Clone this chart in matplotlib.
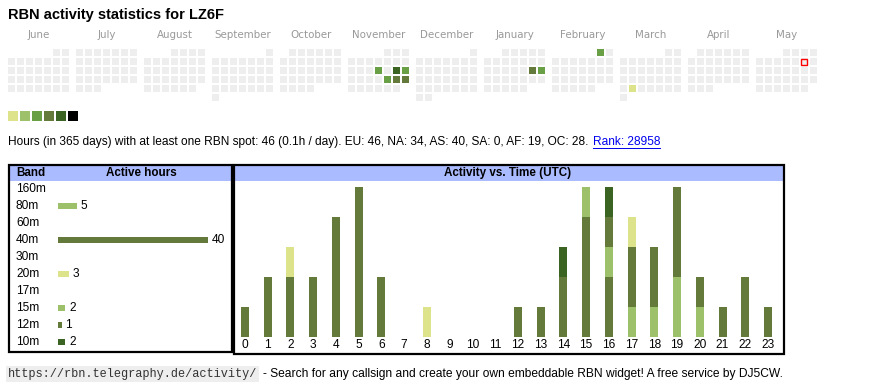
import datetime as dt
import matplotlib.pyplot as plt
from matplotlib.patches import Rectangle

# dati calendario
callsign = "LZ6F"
month_names = ["June", "July", "August", "September", "October", "November",
               "December", "January", "February", "March", "April", "May"]
month_years = [(2024, 6), (2024, 7), (2024, 8), (2024, 9), (2024, 10), (2024, 11),
               (2024, 12), (2025, 1), (2025, 2), (2025, 3), (2025, 4), (2025, 5)]
today = dt.date(2025, 5, 10)
active_days = {
    dt.date(2024, 11, 14): 3, dt.date(2024, 11, 16): 5, dt.date(2024, 11, 17): 3,
    dt.date(2024, 11, 22): 3, dt.date(2024, 11, 23): 4, dt.date(2024, 11, 24): 4,
    dt.date(2025, 1, 18): 4, dt.date(2025, 1, 19): 3, dt.date(2025, 2, 1): 3,
    dt.date(2025, 3, 25): 1,
}
level_colors = ["#dce38a", "#9dc16a", "#6aa045", "#637a3a", "#3b6423", "#000000"]

# dati bande
bands = ["160m", "80m", "60m", "40m", "30m", "20m", "17m", "15m", "12m", "10m"]
band_hours = [0, 5, 0, 40, 0, 3, 0, 2, 1, 2]
band_colors = ["#cccccc", "#9dc16a", "#cccccc", "#637a3a", "#cccccc",
               "#dce38a", "#cccccc", "#9dc16a", "#637a3a", "#3b6423"]

# ore attive per banda e ora UTC
hours = list(range(24))
h160 = [0, 0, 0, 0, 0, 0, 0, 0, 0, 0, 0, 0, 0, 0, 0, 0, 0, 0, 0, 0, 0, 0, 0, 0]
h80 = [0, 0, 0, 0, 0, 0, 0, 0, 0, 0, 0, 0, 0, 0, 0, 0, 0, 1, 1, 2, 1, 0, 0, 0]
h60 = [0, 0, 0, 0, 0, 0, 0, 0, 0, 0, 0, 0, 0, 0, 0, 0, 0, 0, 0, 0, 0, 0, 0, 0]
h40 = [1, 2, 2, 2, 4, 5, 2, 0, 0, 0, 0, 0, 1, 1, 2, 4, 2, 2, 2, 3, 1, 1, 2, 1]
h30 = [0, 0, 0, 0, 0, 0, 0, 0, 0, 0, 0, 0, 0, 0, 0, 0, 0, 0, 0, 0, 0, 0, 0, 0]
h20 = [0, 0, 1, 0, 0, 0, 0, 0, 1, 0, 0, 0, 0, 0, 0, 0, 0, 1, 0, 0, 0, 0, 0, 0]
h17 = [0, 0, 0, 0, 0, 0, 0, 0, 0, 0, 0, 0, 0, 0, 0, 0, 0, 0, 0, 0, 0, 0, 0, 0]
h15 = [0, 0, 0, 0, 0, 0, 0, 0, 0, 0, 0, 0, 0, 0, 0, 1, 1, 0, 0, 0, 0, 0, 0, 0]
h12 = [0, 0, 0, 0, 0, 0, 0, 0, 0, 0, 0, 0, 0, 0, 0, 0, 1, 0, 0, 0, 0, 0, 0, 0]
h10 = [0, 0, 0, 0, 0, 0, 0, 0, 0, 0, 0, 0, 0, 0, 1, 0, 1, 0, 0, 0, 0, 0, 0, 0]
hourly = [h160, h80, h60, h40, h30, h20, h17, h15, h12, h10]

stats = ("Hours (in 365 days) with at least one RBN spot: 46 (0.1h / day). "
         "EU: 46, NA: 34, AS: 40, SA: 0, AF: 19, OC: 28.")
rank = "Rank: 28958"
url = "https://rbn.telegraphy.de/activity/"
footer = "- Search for any callsign and create your own embeddable RBN widget! A free service by DJ5CW."

W, H = 870, 390
SANS = "Liberation Sans"


def px_axes(fig, x, y, w, h):
    # asse posizionato in pixel (origine in alto a sinistra)
    ax = fig.add_axes([x / W, 1 - (y + h) / H, w / W, h / H])
    ax.set_facecolor("none")
    ax.axis("off")
    return ax


fig = plt.figure(figsize=(W / 100, H / 100), dpi=100)
bg = px_axes(fig, 0, 0, W, H)
bg.set_xlim(0, W)
bg.set_ylim(H, 0)

bg.text(8, 15, "RBN activity statistics for " + callsign, family=SANS,
        fontweight="bold", fontsize=10.5, va="center", ha="left")

# calendario
for m, (name, (yy, mm)) in enumerate(zip(month_names, month_years)):
    x0 = 8 + m * 68
    bg.text(x0 + 31, 35, name, fontsize=7.4, color="#999999", ha="center", va="center")
    first_wd = dt.date(yy, mm, 1).weekday()
    d = dt.date(yy, mm, 1)
    while d.month == mm:
        row = (d.day - 1 + first_wd) // 7
        col = d.weekday()
        lev = active_days.get(d)
        fc = level_colors[lev - 1] if lev else "#eeeeee"
        bg.add_patch(Rectangle((x0 + col * 9, 49 + row * 9), 7, 7, facecolor=fc,
                               edgecolor="none"))
        if d == today:
            bg.add_patch(Rectangle((x0 + col * 9 + 0.5, 49 + row * 9 + 0.5), 6, 6,
                                   facecolor="none", edgecolor="#ff0000", linewidth=1.0))
        d += dt.timedelta(days=1)

# legenda livelli
for i, c in enumerate(level_colors):
    bg.add_patch(Rectangle((8 + i * 12, 111), 10, 10, facecolor=c, edgecolor="none"))

# riga statistiche
t = bg.text(8, 142, stats, family=SANS, fontsize=8.55, va="center", ha="left")
link = bg.annotate(rank, xy=(1, 0.5), xycoords=t, xytext=(3, 0), textcoords="offset points",
                   family=SANS, fontsize=8.55, color="#0000ee", va="center", ha="left")

# tabelle
bg.add_patch(Rectangle((9, 165), 223, 16, facecolor="#aabbff", edgecolor="none"))
bg.add_patch(Rectangle((234, 165), 550, 16, facecolor="#aabbff", edgecolor="none"))
bg.add_patch(Rectangle((9, 165), 223, 187, facecolor="none", edgecolor="black", linewidth=1.6))
bg.add_patch(Rectangle((234, 165), 550, 189, facecolor="none", edgecolor="black", linewidth=1.6))
bg.text(16, 173, "Band", family=SANS, fontweight="bold", fontsize=8.4, va="center")
bg.text(141, 173, "Active hours", family=SANS, fontweight="bold", fontsize=8.4,
        va="center", ha="center")
bg.text(508, 173, "Activity vs. Time (UTC)", family=SANS, fontweight="bold", fontsize=8.4,
        va="center", ha="center")

# grafico ore per banda
PXH = 3.75
axb = px_axes(fig, 10, 181, 221, 170)
axb.set_xlim(-48 / PXH, 173 / PXH)
axb.set_ylim(len(bands) - 0.47, -0.47)
axb.barh(range(len(bands)), band_hours, height=0.41, color=band_colors)
for i, (b, v) in enumerate(zip(bands, band_hours)):
    axb.text(-42 / PXH, i, b, family=SANS, fontsize=8.6, va="center", ha="left")
    if v > 0:
        axb.annotate(str(v), xy=(v, i), xytext=(2.5, 0), textcoords="offset points",
                     family=SANS, fontsize=8.6, va="center", ha="left")

# grafico attività per ora
PXX, PXY = 22.74, 30
axh = px_axes(fig, 236, 181, 546, 172)
axh.set_xlim((236 - 245) / PXX, (782 - 245) / PXX)
axh.set_ylim(-(353 - 336.7) / PXY, (336.7 - 181) / PXY)
bottom = [0] * 24
for vals, c in zip(hourly, band_colors):
    axh.bar(hours, vals, bottom=bottom, width=8 / PXX, color=c)
    bottom = [a + b for a, b in zip(bottom, vals)]
for h in hours:
    axh.text(h, -(345.5 - 336.7) / PXY, str(h), family=SANS, fontsize=8.6,
             ha="center", va="center")

# piè di pagina
u = bg.text(8, 374, url, family="Liberation Mono", fontsize=8.6, color="#333333",
            va="center", ha="left",
            bbox=dict(facecolor="#eeeeee", edgecolor="none", pad=1.2))
bg.annotate(footer, xy=(1, 0.5), xycoords=u, xytext=(4, 0), textcoords="offset points",
            family=SANS, fontsize=8.65, va="center", ha="left")

# sottolineatura link
fig.canvas.draw()
bb = link.get_window_extent()
inv = bg.transData.inverted()
(lx0, ly0), (lx1, ly1) = inv.transform([(bb.x0, bb.y0), (bb.x1, bb.y0)])
bg.plot([lx0, lx1], [ly0 - 0.5, ly1 - 0.5], color="#0000ee", linewidth=0.7)

fig.savefig("out.png", dpi=100)
plt.close(fig)
